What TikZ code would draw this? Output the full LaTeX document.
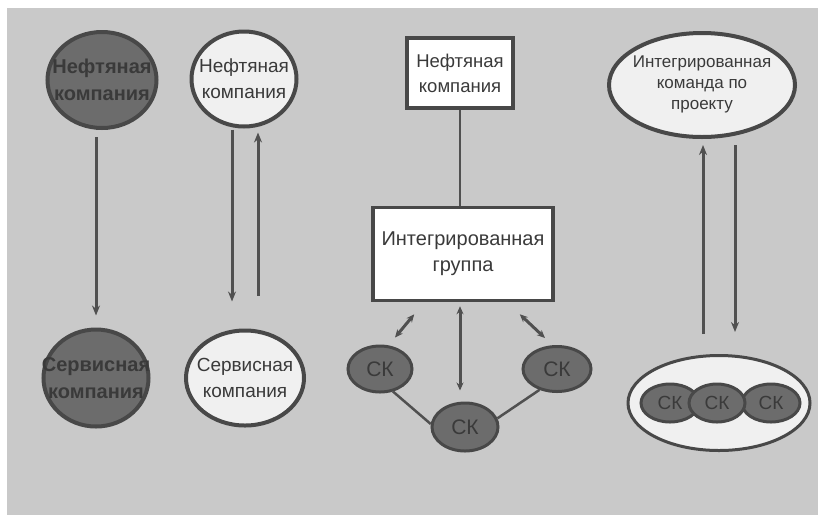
\documentclass[tikz,border=0pt]{standalone}
\usepackage{fontspec}
\setmainfont{Liberation Sans}
\usetikzlibrary{shapes.geometric,arrows.meta,calc}

\definecolor{bggray}{HTML}{C9C9C9}
\definecolor{darkfill}{HTML}{6C6C6C}
\definecolor{darkink}{HTML}{3A3A3A}
\definecolor{edge}{HTML}{484848}
\definecolor{lightfill}{HTML}{F0F0F0}
\definecolor{wire}{HTML}{505050}

\tikzset{
  % the ovals keep their drawn size; their text is set as a centred label
  plaintext/.style={font=\fontsize{19}{26}\selectfont, align=center, text=darkink, inner sep=0pt},
  boldtext/.style={font=\bfseries\fontsize{20}{27}\selectfont, align=center, text=darkink, inner sep=0pt},
  sktext/.style={font=\fontsize{21}{22}\selectfont, text=darkink, inner sep=0pt},
  smallsktext/.style={font=\fontsize{19}{20}\selectfont, text=darkink, inner sep=0pt},
  darkoval/.style={ellipse, draw=edge, line width=4pt, fill=darkfill, inner sep=0pt},
  lightoval/.style={ellipse, draw=edge, line width=4pt, fill=lightfill, inner sep=0pt},
  whitebox/.style={rectangle, draw=edge, line width=3.5pt, fill=white, inner sep=0pt,
    align=center, text=darkink},
  skoval/.style={ellipse, draw=edge, line width=3pt, fill=darkfill, inner sep=0pt},
  arr/.style={draw=wire, line width=3pt, -{Stealth[length=10pt,width=8pt]}},
  darr/.style={draw=wire, line width=3pt, {Stealth[length=8pt,width=7pt]}-{Stealth[length=8pt,width=7pt]}},
  wireline/.style={draw=wire, line width=2.5pt},
}

\begin{document}
\begin{tikzpicture}[x=1pt,y=-1pt]
  % page and mottled-grey panel
  \fill[white] (0,0) rectangle (818,515);
  \fill[bggray] (7,8) rectangle (818,515);
  \useasboundingbox (0,0) rectangle (818,515);

  % column 1: traditional relationship
  \node[darkoval, minimum width=109pt, minimum height=96pt,
        label={[boldtext]center:Нефтяная\\компания}] (n1) at (102,80) {};
  \node[darkoval, minimum width=105pt, minimum height=97pt,
        label={[boldtext]center:Сервисная\\компания}] (n3) at (96,378) {};
  \draw[arr, shorten <=7pt, shorten >=12pt] ([xshift=-6pt]n1.south) -- (n3.north);

  % column 2: two-way relationship
  \node[lightoval, minimum width=105pt, minimum height=95pt,
        label={[plaintext]center:Нефтяная\\компания}] (n2) at (244,79) {};
  \node[lightoval, minimum width=118pt, minimum height=95pt,
        label={[plaintext]center:Сервисная\\компания}] (n4) at (245,378) {};
  \draw[arr, shorten <=1pt, shorten >=27pt] ([xshift=-12pt]n2.south) -- ([xshift=-13pt]n4.north);
  \draw[arr, shorten <=33pt, shorten >=4pt] ([xshift=13pt]n4.north) -- ([xshift=14pt]n2.south);

  % column 3: integrated group
  \node[whitebox, minimum width=106pt, minimum height=70pt,
        font=\fontsize{18.5}{25}\selectfont] (b1) at (460,73) {Нефтяная\\компания};
  \node[whitebox, minimum width=180pt, minimum height=93pt,
        font=\fontsize{20}{26}\selectfont] (b2) at (463,254) {Интегрированная\\группа};
  \node[skoval, minimum width=64pt, minimum height=46pt, label={[sktext]center:СК}] (c1) at (380,369) {};
  \node[skoval, minimum width=66pt, minimum height=48pt, label={[sktext]center:СК}] (c2) at (465,427) {};
  \node[skoval, minimum width=68pt, minimum height=45pt, label={[sktext]center:СК}] (c3) at (557,369) {};
  \draw[wireline] (b1.south) -- (b1.south |- b2.north);
  \draw[darr, shorten <=4pt, shorten >=11pt] (b1.south |- b2.south) -- (b1.south |- c2.north);
  \draw[darr] ($(b2.south west)+(43,12)$) -- ($(c1.north)+(15,-7)$);
  \draw[darr] ($(b2.south east)+(-35,12)$) -- ($(c3.north)+(-12,-7)$);
  \draw[wireline] (c1.-60) -- (c2.175);
  \draw[wireline] (c2.15) -- (c3.230);

  % column 4: integrated project team
  \node[lightoval, minimum width=186pt, minimum height=104pt,
        label={[plaintext, font=\fontsize{17}{21}\selectfont, yshift=1pt]center:Интегрированная\\команда по\\проекту}]
        (e1) at (702,85) {};
  \node[ellipse, draw=edge, line width=3pt, fill=lightfill, inner sep=0pt,
        minimum width=182pt, minimum height=95pt] (e2) at (719,403) {};
  \node[skoval, minimum width=58pt, minimum height=38pt, label={[smallsktext]center:СК}] (k1) at (670,403) {};
  \node[skoval, minimum width=58pt, minimum height=38pt, label={[smallsktext]center:СК}] (k3) at (771,403) {};
  \node[skoval, minimum width=56pt, minimum height=38pt, label={[smallsktext]center:СК}] (k2) at (717,403) {};
  \draw[arr, shorten <=20pt, shorten >=6pt] ([xshift=-16pt]e2.north) -- ([xshift=1pt]e1.south);
  \draw[arr, shorten <=6pt, shorten >=22pt] ([xshift=33pt]e1.south) -- ([xshift=16pt]e2.north);
\end{tikzpicture}
\end{document}
